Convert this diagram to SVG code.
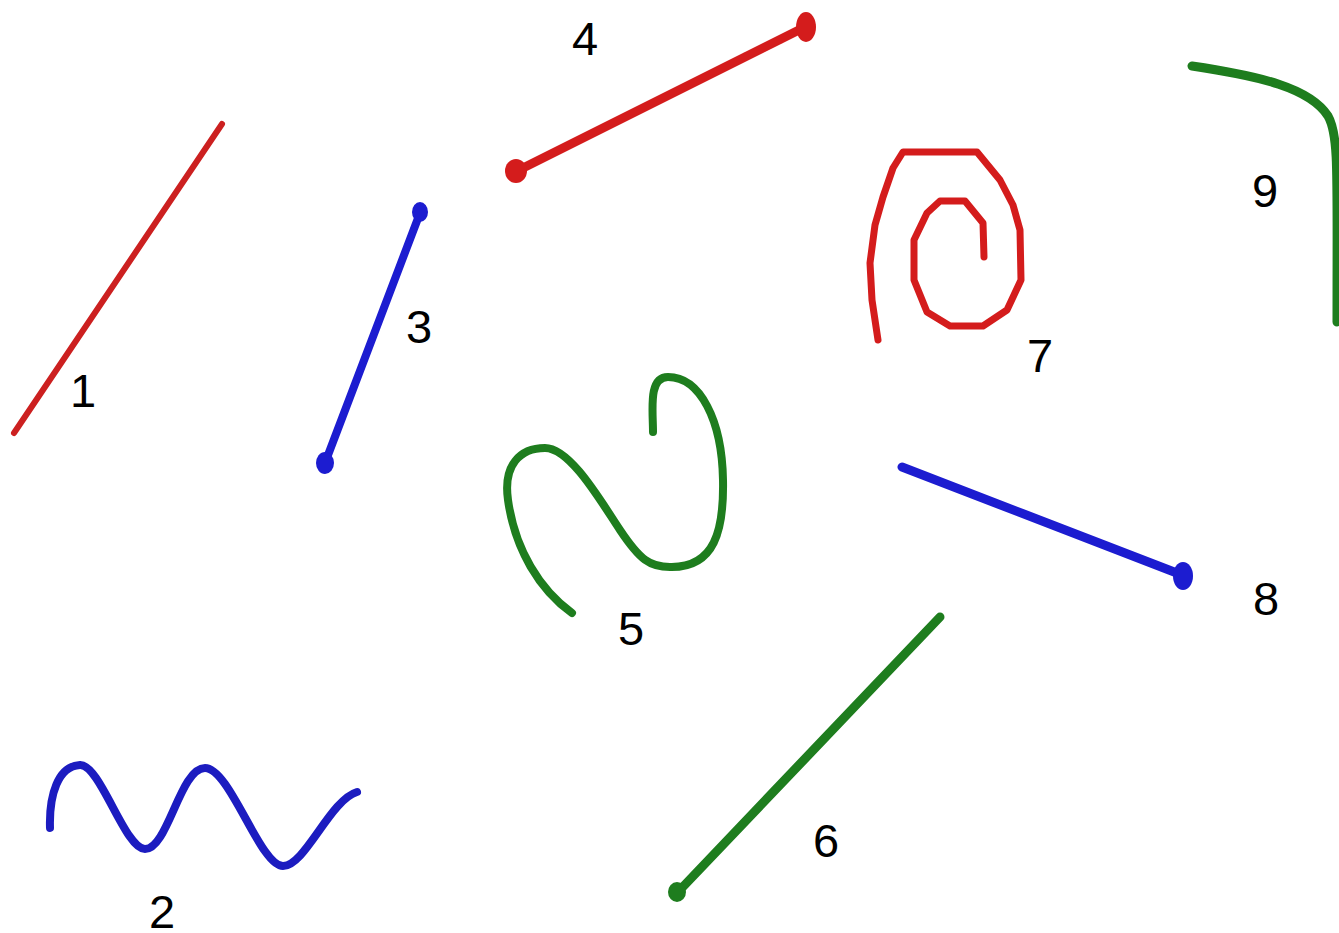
<svg xmlns="http://www.w3.org/2000/svg" width="1339" height="933" viewBox="0 0 1339 933">
<style>
.s{fill:none;stroke-linecap:round;stroke-linejoin:round}
.red{stroke:#d41c1c}
.blue{stroke:#1c1cd0}
.green{stroke:#1e7d1e}
.lbl{font-family:"Liberation Sans",Arial,sans-serif;font-size:47px;fill:#000;text-anchor:middle}
</style>
<rect width="1339" height="933" fill="#ffffff"/>
<g id="shape1">
<line class="s" x1="14" y1="433" x2="222" y2="124" stroke="#cc2020" stroke-width="6"/>
<text class="lbl" x="83" y="407">1</text>
</g>
<g id="shape2">
<path class="s" stroke="#1c1cc0" stroke-width="8" d="M50,828 C49,795 58,766 80,765 C100,764 125,849 145,849 C168,849 180,768 205,768 C230,768 260,866 283,866 C305,866 330,800 357,792"/>
<text class="lbl" x="162" y="928">2</text>
</g>
<g id="shape3">
<line class="s blue" x1="420" y1="213" x2="325" y2="463" stroke-width="8"/>
<ellipse cx="420" cy="212" rx="8" ry="10" fill="#1c1cd0"/>
<ellipse cx="325" cy="463" rx="9" ry="11" fill="#1c1cd0"/>
<text class="lbl" x="419" y="343">3</text>
</g>
<g id="shape4">
<line class="s red" x1="517" y1="171" x2="805" y2="27" stroke-width="9"/>
<ellipse cx="516" cy="171" rx="11" ry="12" fill="#d41c1c"/>
<ellipse cx="806" cy="27" rx="10" ry="15" fill="#d41c1c"/>
<text class="lbl" x="585" y="55">4</text>
</g>
<g id="shape5">
<path class="s green" stroke-width="8" d="M572,613 C540,590 515,550 508,500 C503,465 520,448 545,448 C570,448 600,500 620,530 C640,560 650,567 670,567 C715,568 724,530 723,480 C722,420 700,377 668,377 C648,377 653,410 653,432"/>
<text class="lbl" x="631" y="645">5</text>
</g>
<g id="shape6">
<line class="s green" x1="940" y1="617" x2="678" y2="892" stroke-width="9"/>
<ellipse cx="677" cy="892" rx="9" ry="10" fill="#1e7d1e"/>
<text class="lbl" x="826" y="857">6</text>
</g>
<g id="shape7">
<polyline class="s red" stroke-width="7" points="878,340 872,300 870,263 875,225 883,197 893,168 903,152 977,152 1000,180 1013,205 1020,230 1021,280 1007,310 983,326 950,326 927,312 914,280 914,240 927,213 940,201 965,201 983,223 984,257"/>
<text class="lbl" x="1040" y="372">7</text>
</g>
<g id="shape8">
<line class="s blue" x1="902" y1="467" x2="1182" y2="575" stroke-width="9"/>
<ellipse cx="1183" cy="576" rx="10" ry="14" fill="#1c1cd0"/>
<text class="lbl" x="1266" y="615">8</text>
</g>
<g id="shape9">
<path class="s green" stroke-width="9" d="M1192,66 C1260,76 1310,88 1328,116 C1339,135 1337,170 1337,322"/>
<text class="lbl" x="1265" y="207">9</text>
</g>
<g id="connectors"></g>
</svg>
